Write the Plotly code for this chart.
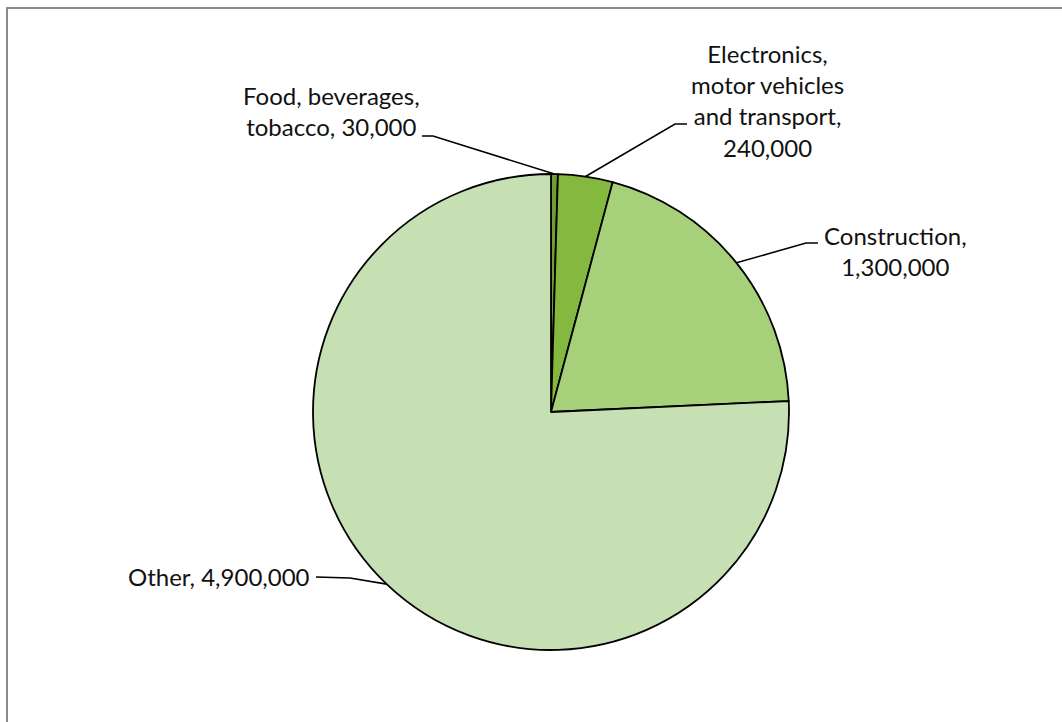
import math
import plotly.graph_objects as go

categories = ["Food, beverages, tobacco", "Electronics, motor vehicles and transport", "Construction", "Other"]
values = [30000, 240000, 1300000, 4900000]
label_texts = [
    "Food, beverages,<br>tobacco, 30,000",
    "Electronics,<br>motor vehicles<br>and transport,<br>240,000",
    "Construction,<br>1,300,000",
    "Other, 4,900,000",
]
colors = ["#6E9E34", "#84B83E", "#A6D07A", "#C6E0B4"]

W, H = 1062, 722
CX, CY, R = 551, 412, 238

def px(x):
    return x / W

def py(y):
    return 1 - y / H

fig = go.Figure(go.Pie(
    labels=categories,
    values=values,
    sort=False,
    direction="clockwise",
    rotation=0,
    textinfo="none",
    hoverinfo="label+value",
    marker=dict(colors=colors, line=dict(color="black", width=1.8)),
    domain=dict(x=[px(CX - R), px(CX + R)], y=[py(CY + R), py(CY - R)]),
    showlegend=False,
))

# mid-angles of slices (from top, clockwise)
total = sum(values)
mids = []
acc = 0
for v in values:
    a = (acc + v / 2) / total * 2 * math.pi
    mids.append((CX + R * math.sin(a), CY - R * math.cos(a)))
    acc += v

label_pos = [
    dict(x=331, y=111, xanchor="center", elbow=(433, 136), end=(422, 136)),
    dict(x=767, y=100, xanchor="center", elbow=(675, 124), end=(687, 124)),
    dict(x=895, y=251, xanchor="center", elbow=(806, 243), end=(818, 243)),
    dict(x=312, y=576, xanchor="right", elbow=(350, 578), end=(316, 577)),
]

shapes = [
    dict(type="rect", xref="paper", yref="paper",
         x0=px(7), x1=px(W + 10), y0=py(H + 10), y1=py(8),
         line=dict(color="#8C8C8C", width=2), fillcolor="rgba(0,0,0,0)", layer="below"),
]
annotations = []
for (mx, my), lp, txt in zip(mids, label_pos, label_texts):
    ex, ey = lp["elbow"]
    tx, ty = lp["end"]
    path = f"M {px(mx)},{py(my)} L {px(ex)},{py(ey)} L {px(tx)},{py(ty)}"
    shapes.append(dict(type="path", xref="paper", yref="paper", path=path,
                       line=dict(color="black", width=1.6)))
    annotations.append(dict(
        x=px(lp["x"]), y=py(lp["y"]), xref="paper", yref="paper",
        text=txt, showarrow=False, xanchor=lp["xanchor"], yanchor="middle",
        align="center", font=dict(family="Lato", size=24, color="#111111"),
    ))

fig.update_layout(
    width=W, height=H,
    margin=dict(l=0, r=0, t=0, b=0),
    paper_bgcolor="white",
    plot_bgcolor="white",
    shapes=shapes,
    annotations=annotations,
)

fig.write_html("out.html", config={"displayModeBar": False},
               post_script="document.body.style.margin='0';document.body.style.overflow='hidden';")
